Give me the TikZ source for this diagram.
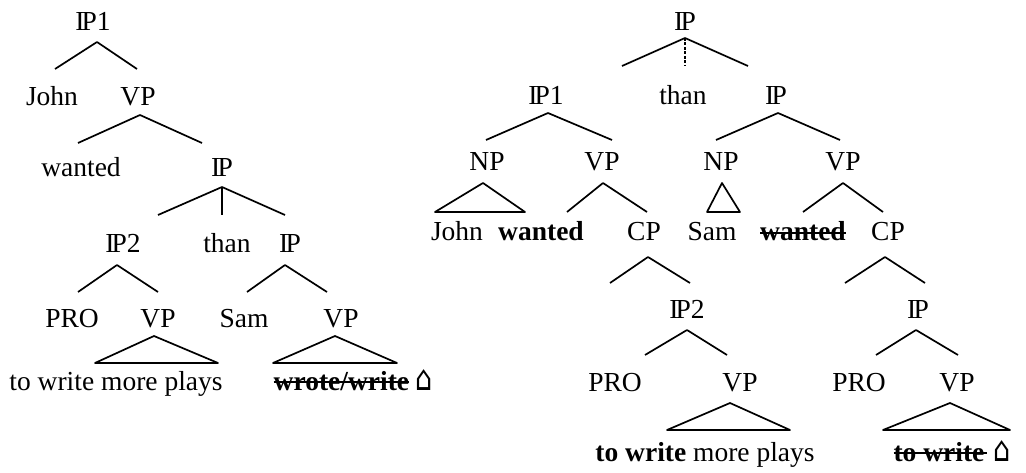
\documentclass[tikz,border=0pt]{standalone}
\usepackage{fontspec}
\setmainfont{Liberation Serif}
\newfontfamily\housefont{DejaVu Sans}
\newcommand\IP{I\kern-0.1em P}
\newcommand\house{\scalebox{1}[1.3]{\housefont\fontsize{27}{30}\selectfont ⌂}}
% struck-through word: a rule laid over the boxed text
\newcommand\strk[1]{\setbox0\hbox{#1}\rlap{\rule[0.27em]{\wd0}{0.075em}}\box0\relax}
\newcommand\tie[6]{\draw[branch] ([shift={(#2,#3)}]#1.center) -- ([shift={(#5,#6)}]#4.center);}
\tikzset{
  lab/.style={inner sep=0pt, text height=18pt, text depth=0pt,
              font=\fontsize{27.5}{31}\selectfont},
  branch/.style={line width=1.7pt, line join=round},
  faint/.style={line width=1.1pt, dash pattern=on 3pt off 1.5pt}
}
\begin{document}
\begin{tikzpicture}[x=1pt,y=-1pt]
\useasboundingbox (0,0) rectangle (1026,473);

% ---------------- tree on the left ----------------
\node[lab] (lip1)  at (93,22)   {\IP1};
\node[lab] (ljohn) at (52,97)   {John};
\node[lab] (lvp)   at (138,97)  {VP};
\node[lab] (lwant) at (81,168)  {wanted};
\node[lab] (lip)   at (222,168) {\IP};
\node[lab] (lip2)  at (123,244) {\IP2};
\node[lab] (lthan) at (227,244) {than};
\node[lab] (lipb)  at (290,244) {\IP};
\node[lab] (lpro)  at (72,318)  {PRO};
\node[lab] (lvpa)  at (158,318) {VP};
\node[lab] (lsam)  at (244,318) {Sam};
\node[lab] (lvpb)  at (341,318) {VP};
\node[lab] (ltxa)  at (116,381) {to write more plays};
\node[lab] (ltxb)  at (353,381) {\strk{\textbf{wrote/write}}\kern6pt\house};

\tie{lip1}{4}{20}{ljohn}{3}{-28}
\tie{lip1}{4}{20}{lvp}{-1}{-28}
\tie{lvp}{2}{18}{lwant}{-3}{-25}
\tie{lvp}{2}{18}{lip}{-20}{-25}
\tie{lip}{0}{19}{lip2}{35}{-29}
\tie{lip}{0}{19}{lthan}{-5}{-29}
\tie{lip}{0}{19}{lipb}{-5}{-29}
\tie{lip2}{-6}{21}{lpro}{6}{-26}
\tie{lip2}{-6}{21}{lvpa}{0}{-26}
\tie{lipb}{-5}{21}{lsam}{3}{-26}
\tie{lipb}{-5}{21}{lvpb}{-14}{-26}
\draw[branch] ([shift={(-4,18)}]lvpa.center) -- ([shift={(-21,-18)}]ltxa.center)
  -- ([shift={(102,-18)}]ltxa.center) -- cycle;
\draw[branch] ([shift={(-6,18)}]lvpb.center) -- ([shift={(-80,-18)}]ltxb.center)
  -- ([shift={(44,-18)}]ltxb.center) -- cycle;

% ---------------- tree on the right ----------------
\node[lab] (rip)    at (685,22)  {\IP};
\node[lab] (rip1)   at (546,96)  {\IP1};
\node[lab] (rthan)  at (683,96)  {than};
\node[lab] (ripb)   at (776,96)  {\IP};
\node[lab] (rnp)    at (487,162) {NP};
\node[lab] (rvp)    at (602,162) {VP};
\node[lab] (rnpb)   at (721,162) {NP};
\node[lab] (rvpb)   at (843,162) {VP};
\node[lab] (rjohn)  at (457,232) {John};
\node[lab] (rwant)  at (541,232) {\textbf{wanted}};
\node[lab] (rcp)    at (644,232) {CP};
\node[lab] (rsam)   at (712,232) {Sam};
\node[lab] (rwantb) at (803,232) {\strk{\textbf{wanted}}};
\node[lab] (rcpb)   at (888,232) {CP};
\node[lab] (rip2)   at (687,310) {\IP2};
\node[lab] (ripc)   at (918,310) {\IP};
\node[lab] (rpro)   at (615,382) {PRO};
\node[lab] (rvpc)   at (740,382) {VP};
\node[lab] (rprob)  at (859,382) {PRO};
\node[lab] (rvpd)   at (957,382) {VP};
\node[lab] (rtxa)   at (705,452) {\textbf{to write} more plays};
\node[lab] (rtxb)   at (952,452) {\strk{\textbf{to write}\kern3pt}\kern6pt\house};
\coordinate (cfree)  at (610,283);
\coordinate (cfreeb) at (845,283);

\tie{rip}{0}{16}{rip1}{76}{-30}
\draw[faint] ([shift={(0,16)}]rip.center) -- ([shift={(2,-30)}]rthan.center);
\tie{rip}{0}{16}{ripb}{-28}{-30}
\tie{rip1}{2}{17}{rnp}{-1}{-22}
\tie{rip1}{2}{17}{rvp}{10}{-22}
\tie{ripb}{2}{17}{rnpb}{-5}{-22}
\tie{ripb}{2}{17}{rvpb}{-3}{-22}
\draw[branch] ([shift={(-4,21)}]rnp.center) -- ([shift={(-22,-20)}]rjohn.center)
  -- ([shift={(68,-20)}]rjohn.center) -- cycle;
\tie{rvp}{1}{21}{rwant}{26}{-20}
\tie{rvp}{1}{21}{rcp}{3}{-20}
\draw[branch] ([shift={(1,21)}]rnpb.center) -- ([shift={(-5,-20)}]rsam.center)
  -- ([shift={(28,-20)}]rsam.center) -- cycle;
\tie{rvpb}{0}{21}{rwantb}{0}{-20}
\tie{rvpb}{0}{21}{rcpb}{-5}{-20}
\draw[branch] ([shift={(4,25)}]rcp.center) -- (cfree);
\tie{rcp}{4}{25}{rip2}{3}{-27}
\draw[branch] ([shift={(-3,25)}]rcpb.center) -- (cfreeb);
\tie{rcpb}{-3}{25}{ripc}{7}{-27}
\tie{rip2}{0}{20}{rpro}{30}{-27}
\tie{rip2}{0}{20}{rvpc}{-13}{-27}
\tie{ripc}{-2}{20}{rprob}{17}{-27}
\tie{ripc}{-2}{20}{rvpd}{1}{-27}
\draw[branch] ([shift={(-10,21)}]rvpc.center) -- ([shift={(-38,-22)}]rtxa.center)
  -- ([shift={(85,-22)}]rtxa.center) -- cycle;
\draw[branch] ([shift={(-7,21)}]rvpd.center) -- ([shift={(-69,-22)}]rtxb.center)
  -- ([shift={(58,-22)}]rtxb.center) -- cycle;
\end{tikzpicture}
\end{document}
